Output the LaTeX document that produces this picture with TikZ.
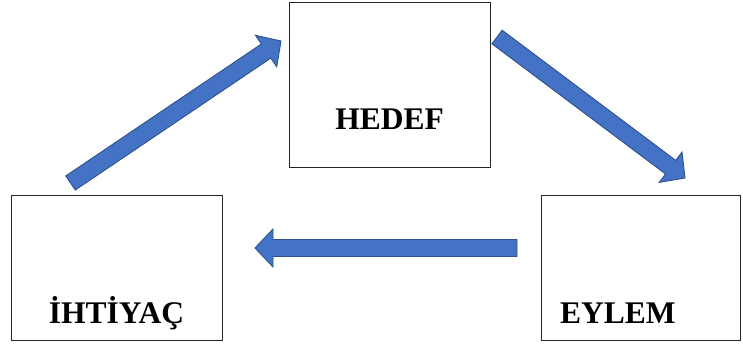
\documentclass[tikz,border=0pt]{standalone}
\usepackage{fontspec}
\setmainfont{Liberation Serif}
\usetikzlibrary{calc}
\definecolor{arrowfill}{HTML}{4472C4}
\definecolor{arrowline}{HTML}{2F528F}
\tikzset{
  box/.style={draw=black!85, line width=0.9pt, fill=white, inner sep=0pt},
  lbl/.style={font=\fontsize{31.5}{36}\selectfont\bfseries, inner sep=0pt, anchor=base},
  blockarrow/.style={fill=arrowfill, draw=arrowline, line width=0.9pt, line join=miter},
}
% block arrow from tail centre #1 to tip #2 (shaft half width, head half width, head length)
\newcommand\blockarrow[2]{%
  \coordinate (#2-base) at ($(#2)!18pt!(#1)$);
  \path[blockarrow]
    ($(#1)!8.5pt!90:(#2)$) -- ($(#2-base)!8.5pt!90:(#2)$) -- ($(#2-base)!19pt!90:(#2)$)
    -- (#2) -- ($(#2-base)!19pt!-90:(#2)$) -- ($(#2-base)!8.5pt!-90:(#2)$)
    -- ($(#1)!8.5pt!-90:(#2)$) -- cycle;
}
\begin{document}
\begin{tikzpicture}[x=1pt, y=-1pt]
  \useasboundingbox (0,0) rectangle (743,344);

  % boxes
  \node[box, minimum width=201pt, minimum height=165pt] (hedef) at (389.5,84.5) {};
  \node[box, minimum width=211pt, minimum height=145pt] (ihtiyac) at (116.5,267.5) {};
  \node[box, minimum width=199pt, minimum height=145pt] (eylem) at (640.5,267.5) {};

  % labels
  \node[lbl] (hedefT) at (389.5,130) {HEDEF};
  \node[lbl] (ihtiyacT) at (116.5,323) {İHTİYAÇ};
  \node[lbl, anchor=base west] (eylemT) at (560,323) {EYLEM};

  % arrow end points
  \coordinate (t1) at (70.5,183);
  \coordinate (h1) at (281,41);
  \coordinate (t2) at (497,37);
  \coordinate (h2) at (685,178);
  \coordinate (t3) at (517,248);
  \coordinate (h3) at (255,248);

  % cycle arrows
  \blockarrow{t1}{h1}
  \blockarrow{t2}{h2}
  \blockarrow{t3}{h3}
\end{tikzpicture}
\end{document}
